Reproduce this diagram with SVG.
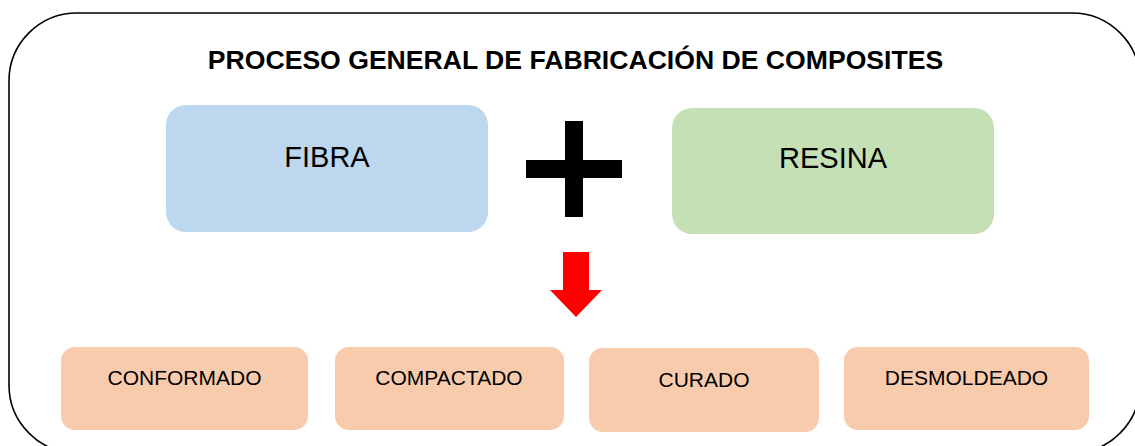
<svg xmlns="http://www.w3.org/2000/svg" width="1135" height="446" viewBox="0 0 1135 446">
  <style>
    text { font-family: "Liberation Sans", Arial, sans-serif; fill: #000; text-anchor: middle; }
    .title { font-size: 26.6px; font-weight: bold; }
    .big { font-size: 29px; }
    .step { font-size: 21px; }
    .step-box { fill: #F8CBAD; }
  </style>
  <rect x="9" y="13" width="1131" height="440" rx="68" ry="68" fill="#fff" stroke="#000" stroke-width="1.6"/>
  <text class="title" x="575.5" y="69">PROCESO GENERAL DE FABRICACIÓN DE COMPOSITES</text>

  <g id="fibra">
    <rect x="166" y="105" width="322" height="127" rx="20" fill="#BDD7EE"/>
    <text class="big" x="327" y="167">FIBRA</text>
  </g>
  <g id="plus">
    <rect x="565" y="121" width="18" height="96" fill="#000"/>
    <rect x="526" y="160" width="96" height="18" fill="#000"/>
  </g>
  <g id="resina">
    <rect x="672" y="108" width="322" height="126" rx="20" fill="#C5E0B4"/>
    <text class="big" x="833" y="168">RESINA</text>
  </g>

  <g id="connectors">
    <polygon points="563,252 589,252 589,290 602,290 576,317 550,290 563,290" fill="#FF0000"/>
  </g>

  <g id="conformado">
    <rect class="step-box" x="61" y="347" width="247" height="83" rx="14"/>
    <text class="step" x="184.5" y="385">CONFORMADO</text>
  </g>
  <g id="compactado">
    <rect class="step-box" x="335" y="347" width="229" height="83" rx="14"/>
    <text class="step" x="449" y="385">COMPACTADO</text>
  </g>
  <g id="curado">
    <rect class="step-box" x="589" y="348" width="230" height="84" rx="14"/>
    <text class="step" x="704" y="387">CURADO</text>
  </g>
  <g id="desmoldeado">
    <rect class="step-box" x="844" y="347" width="245" height="83" rx="14"/>
    <text class="step" x="966.5" y="385">DESMOLDEADO</text>
  </g>
</svg>
